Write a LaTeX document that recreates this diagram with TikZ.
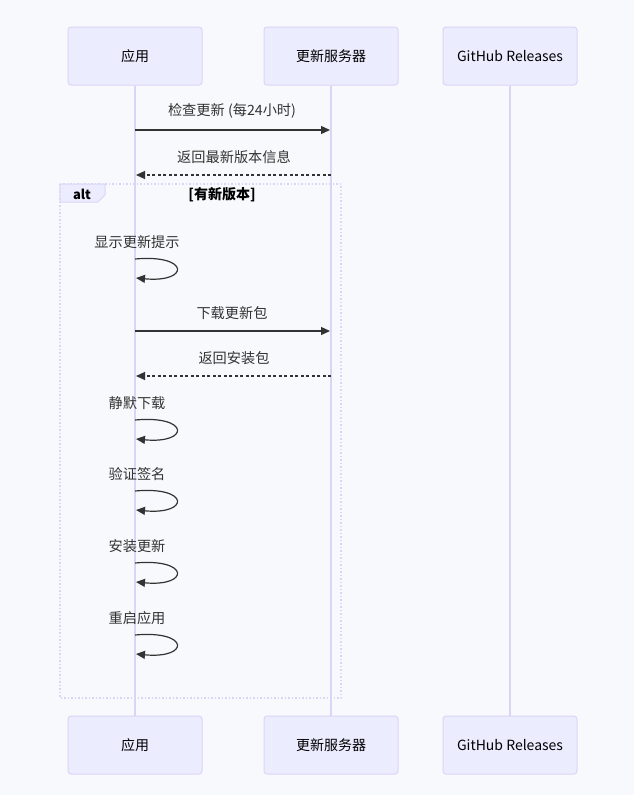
\documentclass[tikz,border=0pt]{standalone}
\usepackage{fontspec}
\setmainfont{Noto Sans CJK SC}
\usetikzlibrary{arrows.meta}
\definecolor{bgcol}{HTML}{F8F9FC}
\definecolor{actorfill}{HTML}{ECECFF}
\definecolor{actorline}{HTML}{DCD4F6}
\definecolor{msgline}{HTML}{333333}
\tikzset{
  actor/.style={draw=actorline, fill=actorfill, rounded corners=3pt, line width=1pt,
    minimum width=134pt, minimum height=58pt, font=\fontsize{14}{16}\selectfont},
  lifeline/.style={draw=actorline, line width=1.6pt},
  msg/.style={draw=msgline, line width=1.2pt, -{Triangle[length=9pt,width=8pt]}},
  reply/.style={msg, dash pattern=on 3pt off 2.5pt},
  msglabel/.style={font=\fontsize{14.2}{16}\selectfont, text=msgline, inner sep=0pt},
}
\begin{document}
\begin{tikzpicture}[x=1pt,y=-1pt]
    \fill[bgcol] (0,0) rectangle (634,795);
    \useasboundingbox (0,0) rectangle (634,795);
    % alt frame
    \draw[actorline, line width=1.5pt, dotted] (60,184) rectangle (341,698);
    \draw[actorline, fill=actorfill, line width=1pt] (60,184) -- (105,184) -- (105,195) -- (98,202) -- (60,202) -- cycle;
    \node[font=\fontsize{13}{15}\selectfont\bfseries, text=black] (altlbl) at (82,194) {alt};
    \node[font=\fontsize{14}{16}\selectfont\bfseries, text=black] (altcond) at (222,195) {[有新版本]};
    % participants
    \node[actor] (app) at (135,56) {应用};
    \node[actor] (srv) at (331,56) {更新服务器};
    \node[actor] (gh) at (510,56) {GitHub Releases};
    \node[actor] (appB) at (135,745) {应用};
    \node[actor] (srvB) at (331,745) {更新服务器};
    \node[actor] (ghB) at (510,745) {GitHub Releases};
    \draw[lifeline] (app) -- (appB);
    \draw[lifeline] (srv) -- (srvB);
    \draw[lifeline] (gh) -- (ghB);
    % messages
    \coordinate (m1a) at (135,130); \coordinate (m1b) at (330,130);
    \draw[msg] (m1a) -- (m1b);
    \node[msglabel] (t1) at (232,111) {检查更新 (每24小时)};
    \coordinate (m2a) at (331,175); \coordinate (m2b) at (136,175);
    \draw[reply] (m2a) -- (m2b);
    \node[msglabel] (t2) at (234,157) {返回最新版本信息};
    \coordinate (s1a) at (135,259); \coordinate (s1b) at (136,278);
    \draw[msg] (s1a) .. controls (190,254) and (190,283) .. (s1b);
    \node[msglabel] (t3) at (137,242) {显示更新提示};
    \coordinate (m3a) at (135,331); \coordinate (m3b) at (330,331);
    \draw[msg] (m3a) -- (m3b);
    \node[msglabel] (t4) at (232,313) {下载更新包};
    \coordinate (m4a) at (331,376); \coordinate (m4b) at (136,376);
    \draw[reply] (m4a) -- (m4b);
    \node[msglabel] (t5) at (234,358) {返回安装包};
    \coordinate (s2a) at (135,420); \coordinate (s2b) at (136,439);
    \draw[msg] (s2a) .. controls (190,415) and (190,444) .. (s2b);
    \node[msglabel] (t6) at (137,403) {静默下载};
    \coordinate (s3a) at (135,491); \coordinate (s3b) at (136,510);
    \draw[msg] (s3a) .. controls (190,486) and (190,515) .. (s3b);
    \node[msglabel] (t7) at (137,474) {验证签名};
    \coordinate (s4a) at (135,563); \coordinate (s4b) at (136,582);
    \draw[msg] (s4a) .. controls (190,558) and (190,587) .. (s4b);
    \node[msglabel] (t8) at (137,546) {安装更新};
    \coordinate (s5a) at (135,635); \coordinate (s5b) at (136,654);
    \draw[msg] (s5a) .. controls (190,630) and (190,659) .. (s5b);
    \node[msglabel] (t9) at (137,618) {重启应用};
\end{tikzpicture}
\end{document}
